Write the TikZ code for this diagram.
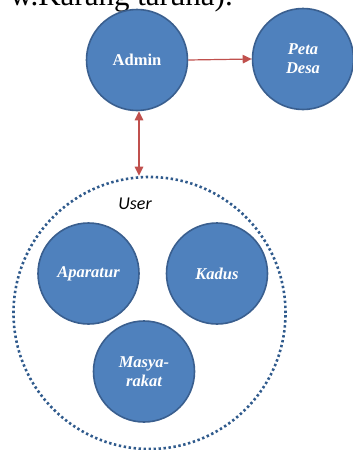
\documentclass[tikz,border=0pt]{standalone}
\usepackage{fontspec}
\setmainfont{Liberation Serif}
\newfontfamily\usersf{Carlito}
\usetikzlibrary{arrows.meta}
\definecolor{obl}{HTML}{4F81BD}
\definecolor{obd}{HTML}{3A5F8F}
\definecolor{ored}{HTML}{C0504D}
\definecolor{dotb}{HTML}{2F5A8C}
\tikzset{
  actor/.style={circle, fill=obl, draw=obd, line width=1.6pt, minimum size=101pt, inner sep=0pt,
    text=white, align=center, font=\fontsize{16.5}{19}\selectfont\bfseries\itshape},
  link/.style={draw=ored, line width=1.2pt},
  tip/.style={-{Triangle[length=9pt,width=8.5pt]}},
}
\begin{document}
\begin{tikzpicture}[x=1pt,y=-1pt]
\useasboundingbox (0,0) rectangle (353,450);
\begin{scope}
\clip (0,0) rectangle (353,450);
\node[anchor=base east, inner sep=0pt, font=\fontsize{31}{34}\selectfont] (top) at (233,5) {w.Karang taruna).};
\end{scope}
\node[actor, font=\fontsize{16.5}{19}\selectfont\bfseries] (admin) at (137,60) {Admin};
\node[actor] (peta) at (303,59) {Peta\\Desa};
\node[circle, draw=dotb, line width=2.6pt, dash pattern=on 2.4pt off 2.6pt, minimum size=272pt, inner sep=0pt] (user) at (149.5,313) {};
\node[font=\fontsize{18}{20}\selectfont\usersf\itshape, anchor=base] (userlbl) at (135,209) {User};
\node[actor] (apar) at (88.5,273.5) {Aparatur};
\node[actor] (kadus) at (217,273.5) {Kadus};
\node[actor] (masy) at (144,371.5) {Masya-\\rakat};
\draw[link, tip] (admin.east) -- (peta.west);
\draw[link, {Triangle[length=9pt,width=8.5pt]}-{Triangle[length=9pt,width=8.5pt]}] ([xshift=2pt]admin.south) -- ([xshift=2pt]admin.south |- user.north);
\end{tikzpicture}
\end{document}
